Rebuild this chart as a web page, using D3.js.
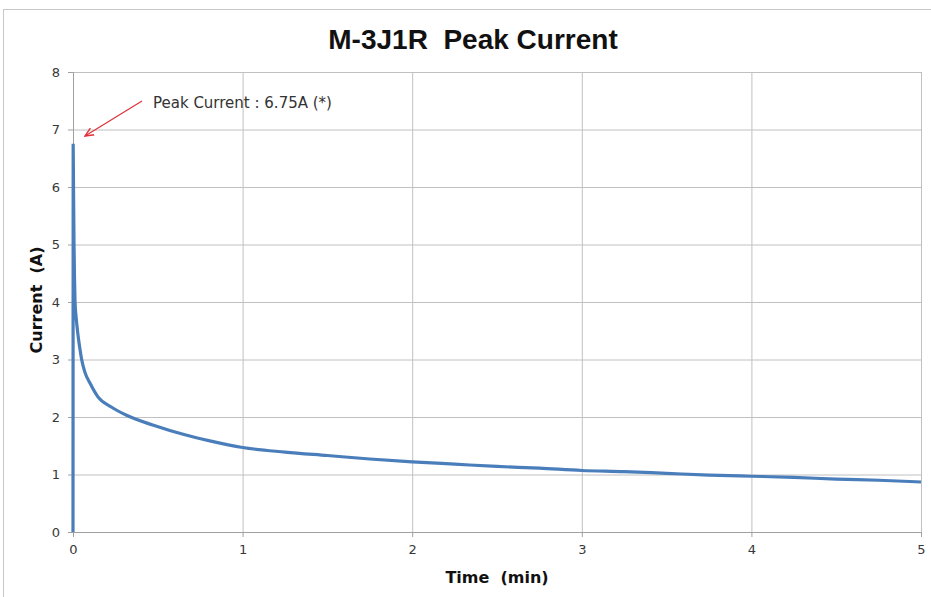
<!DOCTYPE html>
<html>
<head>
<meta charset="utf-8">
<script src="https://cdn.jsdelivr.net/npm/d3@7"></script>
<style>
  body { margin: 0; background: #fff; }
  text { font-family: "DejaVu Sans", sans-serif; white-space: pre; }
</style>
</head>
<body>
<div id="chart"></div>
<script>
// time in minutes, current in amperes
const time = [0, 0.001, 0.003, 0.006, 0.009, 0.012, 0.018, 0.028, 0.04, 0.051, 0.07, 0.1, 0.147, 0.228, 0.316, 0.47, 0.66, 0.8, 1.0,
  1.25, 1.5, 1.75, 2.0, 2.25, 2.5, 2.75, 3.0, 3.25, 3.5, 3.75, 4.0, 4.25, 4.5, 4.75, 5.0];
const current = [0, 6.75, 6.0, 5.0, 4.4, 4.0, 3.75, 3.46, 3.2, 3.0, 2.78, 2.59, 2.35, 2.17, 2.03, 1.86, 1.69, 1.59, 1.47,
  1.39, 1.33, 1.27, 1.22, 1.18, 1.14, 1.11, 1.07, 1.05, 1.02, 0.99, 0.97, 0.95, 0.92, 0.90, 0.87];
const xTicks = [0, 1, 2, 3, 4, 5];
const yTicks = [0, 1, 2, 3, 4, 5, 6, 7, 8];
const peakLabel = "Peak Current : 6.75A (*)";

const width = 931, height = 597;
const margin = { left: 73, right: 10, top: 72, bottom: 65 };

let svg = d3.select("#chart").append("svg")
    .attr("width", width)
    .attr("height", height);

// outer chart border
svg.append("rect")
    .attr("x", 3.5).attr("y", 9.5)
    .attr("width", 940).attr("height", 600)
    .attr("fill", "none").attr("stroke", "#c8c8c8");

let x = d3.scaleLinear().domain([0, 5]).range([margin.left, width - margin.right]);
let y = d3.scaleLinear().domain([0, 8]).range([height - margin.bottom, margin.top]);

// grid
svg.append("g")
    .attr("transform", "translate(0," + y(0) + ")")
    .call(d3.axisBottom(x).tickValues(xTicks).tickSize(-(y(0) - y(8))).tickFormat(""))
    .call(g => g.select(".domain").remove())
    .selectAll("line").attr("stroke", "#c0c0c0");
svg.append("g")
    .attr("transform", "translate(" + x(0) + ",0)")
    .call(d3.axisLeft(y).tickValues(yTicks).tickSize(-(x(5) - x(0))).tickFormat(""))
    .call(g => g.select(".domain").remove())
    .selectAll("line").attr("stroke", "#c0c0c0");

// axes
let xAxis = svg.append("g")
    .attr("transform", "translate(0," + y(0) + ")")
    .call(d3.axisBottom(x).tickValues(xTicks).tickSize(5).tickPadding(8).tickFormat(d3.format("d")));
let yAxis = svg.append("g")
    .attr("transform", "translate(" + x(0) + ",0)")
    .call(d3.axisLeft(y).tickValues(yTicks).tickSize(5).tickPadding(8).tickFormat(d3.format("d")));
[xAxis, yAxis].forEach(a => {
    a.selectAll("line, path").attr("stroke", "#a0a0a0");
    a.selectAll("text").attr("fill", "#383838").style("font-size", "13px");
});

// data line
let line = d3.line()
    .x((d, i) => x(time[i]))
    .y(d => y(d))
    .curve(d3.curveMonotoneX);

svg.append("path")
    .datum(current)
    .attr("fill", "none")
    .attr("stroke", "#4a7ebb")
    .attr("stroke-width", 3.2)
    .attr("d", line);

// titles
svg.append("text")
    .attr("x", 473).attr("y", 49)
    .attr("text-anchor", "middle")
    .style("font-family", "'Liberation Sans', sans-serif")
    .style("font-weight", "bold").style("font-size", "28px")
    .attr("fill", "#111")
    .text("M-3J1R  Peak Current");

svg.append("text")
    .attr("x", 497).attr("y", 583)
    .attr("text-anchor", "middle")
    .style("font-weight", "bold").style("font-size", "16px")
    .attr("fill", "#111")
    .text("Time  (min)");

svg.append("text")
    .attr("transform", "translate(42,300) rotate(-90)")
    .attr("text-anchor", "middle")
    .style("font-weight", "bold").style("font-size", "16px")
    .attr("fill", "#111")
    .text("Current  (A)");

// annotation
svg.append("defs").append("marker")
    .attr("id", "arrow")
    .attr("viewBox", "0 0 10 10")
    .attr("refX", 9).attr("refY", 5)
    .attr("markerWidth", 8).attr("markerHeight", 8)
    .attr("orient", "auto")
    .append("path")
    .attr("d", "M0,1 L9,5 L0,9")
    .attr("fill", "none").attr("stroke", "#e0303a").attr("stroke-width", 1.5);

svg.append("line")
    .attr("x1", 142).attr("y1", 101)
    .attr("x2", 85).attr("y2", 136)
    .attr("stroke", "#e0303a").attr("stroke-width", 1.2)
    .attr("marker-end", "url(#arrow)");

svg.append("text")
    .attr("x", 153).attr("y", 108)
    .style("font-size", "15px")
    .attr("fill", "#333")
    .text(peakLabel);
</script>
</body>
</html>
